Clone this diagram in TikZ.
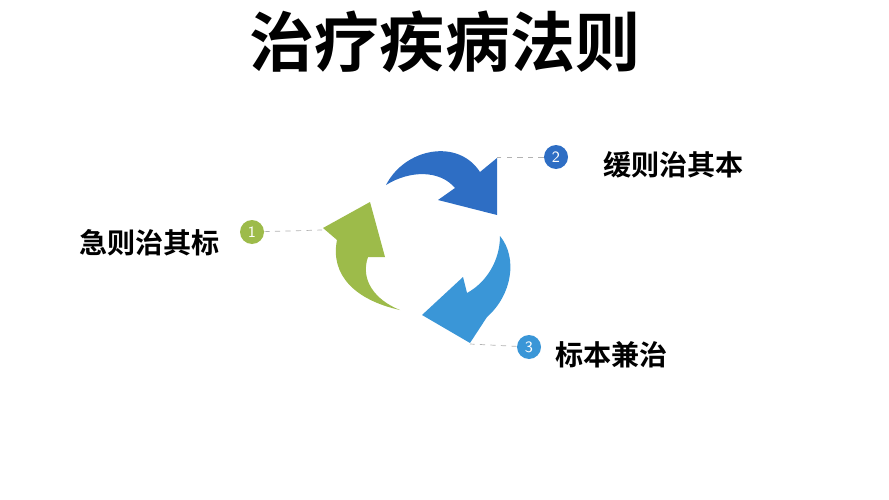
\documentclass[tikz,border=0pt]{standalone}
\usepackage{fontspec}
\newfontfamily\cjk{Noto Sans CJK SC}[BoldFont={Noto Sans CJK SC Bold}]
\definecolor{leafgreen}{RGB}{157,187,74}
\definecolor{deepblue}{RGB}{46,110,196}
\definecolor{skyblue}{RGB}{58,150,215}
\tikzset{
    numdot/.style={circle,minimum size=24*0.02cm,inner sep=0pt,text=white,font=\sffamily\small},
    tag/.style={font=\cjk\bfseries\fontsize{16}{18}\selectfont,inner sep=0pt},
    lead/.style={gray!60,dashed,line width=.4pt},
}
\begin{document}
\begin{tikzpicture}[x=0.02cm,y=-0.02cm]
    \useasboundingbox (0,0) rectangle (889,500);

    % title
    \node[font=\cjk\bfseries\fontsize{37}{40}\selectfont] (title) at (445,42) {治疗疾病法则};

    % dark blue arrow
    \fill[deepblue] (386,185) .. controls (405,148) and (458,138) .. (480,172)
        -- (497,158) -- (497,215) -- (438,200) -- (455,188)
        .. controls (440,170) and (410,170) .. (386,185);

    % light blue arrow
    \fill[skyblue] (500,236) .. controls (518,258) and (512,295) .. (487,317)
        -- (470,343) -- (422,315) -- (463,277) -- (467,293)
        .. controls (487,282) and (500,260) .. (500,236);

    % green arrow
    \fill[leafgreen] (400,310) .. controls (355,300) and (330,275) .. (337,240)
        -- (323,228) -- (370,202) -- (385,257) -- (368,257)
        .. controls (360,280) and (375,300) .. (400,310);

    % ends of the leader lines
    \coordinate (g) at (322,230);
    \coordinate (d) at (497,157);
    \coordinate (s) at (470,344);

    % markers
    \node[numdot,fill=leafgreen] (n1) at (252,232) {1};
    \node[numdot,fill=deepblue] (n2) at (556,157) {2};
    \node[numdot,fill=skyblue] (n3) at (529,347) {3};
    \draw[lead] (n1) -- (g);
    \draw[lead] (n2) -- (d);
    \draw[lead] (n3) -- (s);

    % labels
    \node[tag,anchor=east] (l1) at (220,243) {急则治其标};
    \node[tag,anchor=west] (l2) at (603,165) {缓则治其本};
    \node[tag,anchor=west] (l3) at (555,355) {标本兼治};
\end{tikzpicture}
\end{document}
